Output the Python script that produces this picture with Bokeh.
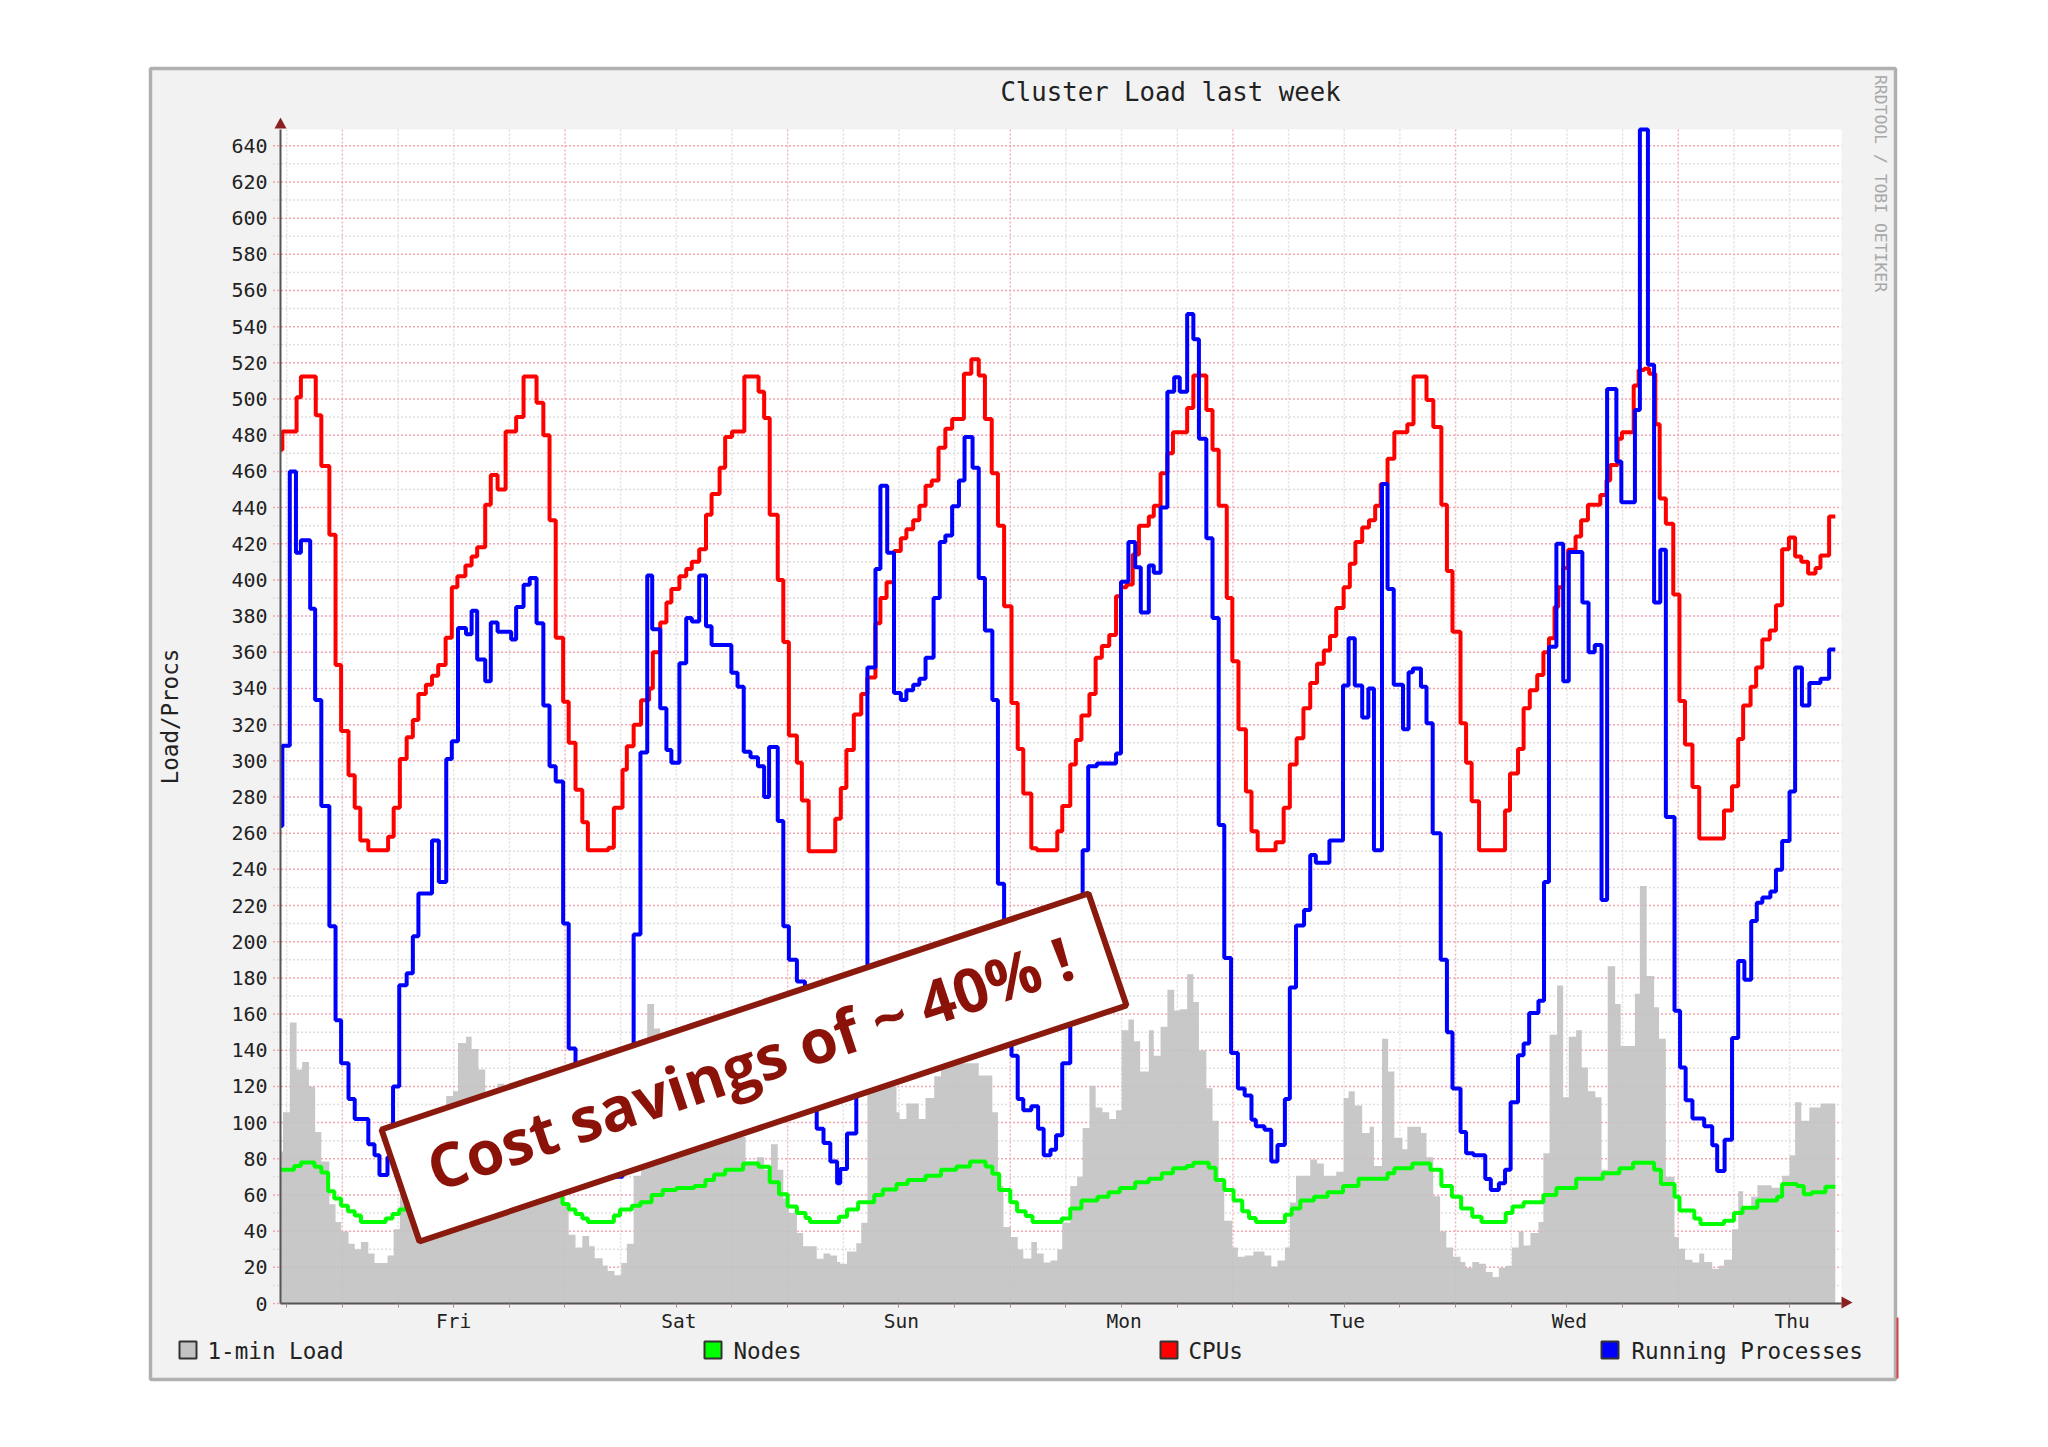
from bokeh.plotting import figure
from bokeh.embed import file_html
from bokeh.resources import INLINE
from bokeh.models import (BoxAnnotation, PolyAnnotation, Label, FixedTicker, Range1d)

# Samples are 40-minute steps from the left edge of the chart; each pair is
# (sample at which the level starts, level)
cpus_steps = [(0,472),(.3,482),(2.6,501),(3.3,512.5),(5.7,491),(6.6,463),(7.9,425),(8.9,353),(9.8,316.5),(11,292),(12,274),(12.9,256),(14.2,250.5),(17.4,258),(18.3,274),(19.3,301),(20.4,313),(21.4,322.5),(22.3,337),(23.5,342),(24.5,347),(25.5,353),(26.7,368),(27.7,396),(28.6,402),(29.9,408),(30.9,413),(31.8,418),(33.1,441.5),(34,458),(35.1,450),(36.4,482),(38.1,490),(39.3,512.5),(41.4,498),(42.5,480),(43.5,433),(44.5,368),(45.7,332.6),(46.6,310),(47.7,284),(48.8,266),(49.7,250.5),(53,252),(53.9,274),(55.3,295),(56,308),(57.1,320),(58.3,333.5),(59.6,340),(60.2,360),(61.4,376.5),(62.4,387.5),(63.2,395),(64.5,402),(65.6,406),(66.5,410),(67.7,417),(68.8,436),(69.7,447.5),(71,462),(71.9,479),(73,482),(75,512.5),(77.3,504),(78.2,489.5),(79.1,436),(80.4,400),(81.3,365.7),(82.2,314),(83.5,299),(84.3,278),(85.4,250),(89.7,268),(90.6,285),(91.5,306),(92.7,325.6),(93.9,337),(94.9,346),(96.2,376),(97,390),(98,398.7),(99.2,416),(100.3,423),(101.2,428),(102.3,433),(103.3,441),(104.3,452),(105.3,455),(106.4,473),(107.5,483.6),(108.6,489),(110.5,514),(111.7,522),(112.9,513),(113.9,489),(115,459),(116,430),(117,385.5),(118.2,332),(119.2,306.6),(120.1,282),(121.4,251.6),(122.3,250.5),(125.6,261),(126.4,275),(127.7,298),(128.6,311.5),(129.5,325),(130.8,337),(131.8,357),(132.8,363.5),(134,369.5),(135.1,391),(135.9,396),(136.8,397.5),(137.8,414),(138.8,430),(140.4,435),(141.2,441),(142.3,459),(143.4,470),(144.3,481.6),(146.6,495),(147.6,513),(149.7,494),(150.7,472),(151.7,441),(153,390),(153.9,355),(154.9,317.5),(156.1,283),(157,261),(158,250.5),(160.9,255),(162.2,274),(163.2,298),(164.3,312.5),(165.4,329),(166.5,343),(167.6,353.6),(168.7,361),(169.7,369),(170.7,384.5),(171.9,396),(172.9,409),(173.8,421),(174.9,429),(176,433),(177,441),(177.9,453),(179,467),(180.1,481.6),(182.2,486),(183.2,512.5),(185.3,499.5),(186.4,484.5),(187.7,441.5),(188.6,405),(189.5,371.4),(190.8,320.7),(191.7,299),(192.6,277.6),(193.8,250.5),(198,272.6),(198.8,293),(200.1,306.6),(201,329),(202,339),(203.2,347.4),(204.2,360),(205.1,367.7),(206,385),(206.6,396),(207.4,406.6),(208.2,416.7),(209.4,424),(210.3,433),(211.4,441.5),(213.4,447),(214.4,455),(215,463.5),(216.2,478),(216.9,481.6),(218.8,507.5),(219.6,516),(220.5,516.7),(221.3,514),(222.3,486),(223,445),(224,431),(225.2,392),(226.2,333),(227.1,309),(228.3,285.5),(229.4,257),(233.4,272.6),(234.7,286),(235.7,312),(236.5,330.6),(237.7,341),(238.6,351.6),(239.6,367),(240.8,372),(241.8,386),(242.8,417),(243.9,423.4),(244.9,413),(245.9,410),(247,403.6),(248.2,406.6),(249,413.5),(250.4,435),(251.4,435)]

running_steps = [(0,264),(.3,308.3),(1.5,460),(2.5,415),(3.3,422),(4.8,384),(5.6,333.6),(6.6,275),(7.9,208.6),(8.9,156.6),(9.8,132.8),(11,113),(12,102),(14.2,88),(15.2,82),(16,71),(17.3,80.8),(18.2,120),(19.2,176),(20.4,182.6),(21.4,203),(22.3,226.7),(24.5,256),(25.6,233),(26.8,301),(27.7,310.8),(28.7,373.4),(30,370),(30.9,383),(31.8,356),(33.1,344),(34,376.4),(35.1,371.4),(37.3,367),(38.1,385),(39.3,397.4),(40.3,401),(41.4,376),(42.5,330.6),(43.5,297),(44.5,288.5),(45.7,210),(46.6,141),(47.7,120),(48.8,110),(49.7,105),(51,95),(52.1,80),(53.1,70),(55.3,110),(57.1,204),(58.2,304.6),(59.3,402.4),(60.1,372.7),(61.4,329),(62.4,306),(63.2,299),(64.5,354),(65.6,379),(66.5,377),(67.7,402.4),(68.8,374.4),(69.7,364),(72.9,348.7),(73.9,341),(74.9,305),(76,302),(77.2,297),(78.2,280),(79,307.6),(80.4,266.7),(81.3,208.6),(82.2,190),(83.5,178),(84.8,150),(85.8,120),(86.7,96.6),(87.8,88.7),(88.9,78.5),(90,66.5),(90.5,74.4),(91.6,94),(93.1,140),(94.9,351.6),(96.2,406),(97,452),(98.1,415),(99.2,337.5),(100.3,333.6),(101.2,339),(102.3,342),(103.3,345.4),(104.3,357),(105.6,390),(106.6,421),(107.5,424.6),(108.6,440.7),(109.7,455),(110.6,479),(111.9,462),(112.9,401),(113.9,372),(115.1,333.6),(116,232),(117,190),(118.2,137),(119.2,113),(120.1,106.8),(121.4,109),(122.5,96.6),(123.4,82),(124.5,85),(125.4,93),(126.4,132.8),(127.7,190),(129.7,250.5),(130.6,297),(132,298.5),(135.1,304),(135.9,399),(137.1,421),(138.2,407),(139.1,382),(140.4,408),(141.2,404),(142.3,440),(143.4,504),(144.5,512),(145.4,504),(146.6,547),(147.6,533),(148.5,478),(149.7,423),(150.7,379),(151.7,264.5),(152.6,191),(153.7,138.5),(154.8,118.8),(155.9,115),(157,101.6),(157.7,98),(159.1,96),(160.2,78.5),(161.2,87.6),(162.4,113),(163.2,174.7),(164.2,209),(165.5,217.6),(166.5,248),(167.4,243.7),(169.6,256),(171.8,341.7),(172.7,367.7),(173.7,341.7),(174.9,324),(175.9,340),(176.8,250.5),(178.1,453),(179,395),(180,342),(181.5,317.5),(182.4,349),(183.1,351),(184.4,341),(185.3,320.7),(186.3,260),(187.6,190),(188.6,150),(189.5,118.8),(190.8,94.8),(191.7,83),(192.9,82),(194.8,68.8),(195.7,62.7),(197,66.5),(198,74),(198.9,111.3),(200.1,137.3),(201,143.7),(201.9,160.6),(203.4,167.4),(204.3,233),(205.1,363),(206.3,420),(207.4,344),(208.3,415.5),(210.5,387.5),(211.5,360),(212.5,364),(213.6,223),(214.5,505.5),(216,465.5),(216.8,443),(219,494),(219.8,649),(221.1,519),(222.1,387.5),(223.1,416.7),(224,269),(225.4,161.8),(226.3,130.5),(227.2,112.4),(228.3,102.3),(230.2,98),(231.5,87.5),(232.3,73.3),(233.5,90.5),(234.7,146.8),(235.7,189.4),(236.7,179),(237.8,211.5),(238.7,221.5),(239.6,224.4),(240.9,227.8),(241.8,239.8),(242.8,255.7),(244,283),(244.9,351.6),(246,330.6),(247.2,343),(249,345.4),(250.4,361.5),(251.4,361.5)]

nodes_steps = [(0,74),(2.2,76),(3.3,78),(5.5,75.6),(6.6,72.4),(7.7,62),(8.7,58),(9.8,54),(10.9,51),(12,48.6),(13,45),(17,47),(18.1,49.5),(19.2,52),(20.3,55),(21.5,58),(24,61),(27,63),(30,66),(33,69),(36,72),(39,75),(41,78),(43,74),(44.5,66),(45.5,60),(45.6,55),(46.6,52),(47.7,49.5),(48.8,47),(49.7,45),(53.9,48.6),(54.9,52),(56.8,54),(58.2,56),(60,60),(61.8,62.7),(64,63.8),(66.9,65),(68.7,68.3),(70.1,71.3),(71.9,74),(74.8,77.4),(77.3,75.6),(79.1,67),(80.6,60.4),(82,53.6),(83.5,50),(84.9,47.3),(85.6,45),(90.3,48),(91.6,52),(93.4,56),(96,60),(97.4,63),(99.6,66),(101.4,68.3),(104.3,70.6),(106.8,74),(109.3,75.8),(111.5,78.5),(114,75.8),(115.1,71.7),(116.2,62.7),(118,56),(119.1,51),(120.5,48.4),(121.6,45),(126.3,47),(127.7,52.5),(129.5,57),(132.1,59),(133.9,61.5),(135.7,63.8),(138.2,67),(140.4,69),(142.5,72),(144.3,74.7),(146.5,76),(147.6,77.8),(150.1,75),(151.2,68.3),(152.6,62.7),(154.1,57),(155.5,51),(156.6,47.3),(157.7,45),(162.4,49),(163.5,52.5),(164.9,57),(167.1,59),(169.3,61.5),(171.8,65),(174.3,69),(179,72),(180.1,74.7),(183,77.4),(185.9,74),(187.7,65),(189.4,59),(190.9,52.5),(192.7,48),(194.2,45),(198.1,50),(199.2,53.6),(201,56),(204.2,60),(206.3,63.8),(209.5,69),(213.8,72),(216.5,74.7),(218.7,77.8),(222.1,74),(223.2,66),(225.4,59),(226.2,51.4),(228.6,47),(229.6,44),(233.4,45.7),(235,50),(236.4,53),(238.8,57),(242,59),(242.8,66),(245.2,65),(246.3,60.4),(247.6,61.5),(249.8,64.5),(251.4,64.5)]

load_steps = [(0,84),(.4,105.7),(1.5,155.4),(2.6,129.4),(3.5,133.5),(4.6,120),(5.6,94.8),(6.6,78.5),(7.9,54.8),(8.9,45),(9.8,40),(11,33),(12,30),(13,34),(14.2,27.6),(15.2,22.4),(17.3,26.5),(18.3,41),(19.3,65),(20.4,85),(22.5,90),(24.6,100),(26.8,114.7),(27.9,117.4),(28.7,144),(30,147.5),(30.9,140.7),(32,129.4),(33.1,110),(35.1,121.5),(36.2,105),(39.4,125),(41.2,115),(43,95),(44.5,70),(45.6,55),(46.6,38),(47.7,31),(48.8,37.3),(49.9,31.7),(50.8,25),(52.1,21),(52.9,18),(54,15.6),(55.1,22.4),(56,33),(57.1,70.6),(58.3,110),(59.3,165.6),(60.4,152),(61.4,130),(66.1,125),(70.5,115),(74.1,92),(75.2,78.5),(77,80.8),(78.2,74),(79.3,88),(80.4,74),(81.3,58),(82.2,50),(83.5,39),(84.5,31.7),(86.7,24.7),(87.8,27.6),(88.9,26.5),(90,23),(90.5,22),(91.6,28.7),(93.1,33.3),(93.9,44.6),(94.9,120),(99.6,105.7),(100.1,102),(101.2,110.6),(103.2,102),(104.3,113.6),(105.7,125.6),(106.8,132.8),(112.9,126),(115.1,105.7),(116,65),(116.9,42.3),(118.1,36.7),(119.2,29.9),(120.1,24.9),(121.4,34),(122.3,27.6),(123.4,22.6),(124.5,23.8),(125.6,29.9),(126.4,44.6),(127.7,65),(128.8,70),(129.7,97),(130.8,120.4),(131.8,108.4),(132.9,105.7),(134,102),(135.1,106.8),(136,151),(137.1,157),(138,145),(139,128.3),(140.4,151),(141.2,136.9),(142.3,153),(143.4,173.5),(144.5,162),(145.4,162.7),(146.6,182),(147.6,166.7),(148.5,140),(149.7,119),(150.7,101),(151.7,67),(152.6,45.7),(153.9,31),(154.8,25.8),(155.9,26.5),(157.3,28.7),(159.1,26.5),(160.2,20.4),(161.2,23.8),(162.4,31),(163.2,55.9),(164.2,70.6),(166.5,79.6),(167.6,77.4),(168.7,70.6),(170.7,72.9),(171.9,113.6),(172.7,117.4),(173.7,109.5),(174.9,94.3),(176.1,97.7),(176.8,76),(178.1,146.4),(179.1,128.3),(180.1,91.6),(181.4,85.3),(182.2,97.7),(184.4,94.3),(185.3,80.8),(186.4,59.3),(187.5,40),(188.5,31),(189.6,25.8),(190.8,23),(191.6,19.7),(192.7,23),(193.8,22),(194.9,17.4),(196,14.7),(197,19.7),(198.1,20.8),(199.1,31),(200.2,40),(201,32),(202.1,39),(203.4,45),(204.2,83),(205.2,148.6),(206.4,175.8),(207.4,114),(208.3,147.5),(209.5,151),(210.4,130.5),(211.4,117.4),(212.6,114),(213.6,74),(214.6,186.4),(215.8,165.6),(216.7,142.3),(219,171.3),(219.8,230.8),(220.9,181),(222.1,163.8),(222.9,146.4),(224,70),(225.4,36.7),(226.1,30.3),(227.1,24.2),(228.3,22.6),(229.4,27.6),(230.2,23),(231.5,19.2),(232.6,20.8),(233.4,24.2),(234.7,41),(235.7,62),(236.5,53),(237.8,59),(238.8,65.4),(241.1,64),(242.8,70.6),(244,81.9),(244.9,111.3),(245.9,101),(247.2,108.4),(249,110.6),(251.4,110.6)]

day_labels = ["Fri", "Sat", "Sun", "Mon", "Tue", "Wed", "Thu"]
day_label_ticks = [28, 64.4, 100.4, 136.4, 172.5, 208.4, 244.4]
midnight_ticks = [10, 46, 82, 118, 154, 190, 226]
six_hour_ticks = [1, 19, 28, 37, 55, 64, 73, 91, 100, 109, 127, 136, 145, 163, 172, 181, 199, 208, 217, 235, 244]
y_ticks = [0, 20, 40, 60, 80, 100, 120, 140, 160, 180, 200, 220, 240, 260, 280, 300, 320, 340, 360, 380, 400, 420, 440, 460, 480, 500, 520, 540, 560, 580, 600, 620, 640]
y_minor_ticks = [10, 30, 50, 70, 90, 110, 130, 150, 170, 190, 210, 230, 250, 270, 290, 310, 330, 350, 370, 390, 410, 430, 450, 470, 490, 510, 530, 550, 570, 590, 610, 630]

MONO = "DejaVu Sans Mono"
INK = "#222222"
WIDTH, HEIGHT = 2040, 1440
X_MAX, Y_MAX = 252.4, 649
PLOT_L, PLOT_R, PLOT_T, PLOT_B = 280, 1841, 129, 1303
sx = (PLOT_R - PLOT_L) / X_MAX
sy = (PLOT_B - PLOT_T) / Y_MAX

# The frame fills the whole canvas so that the surrounding panel, legend and
# title are not clipped; axes are pinned at the data origin.
p = figure(width=WIDTH, height=HEIGHT, output_backend="svg", toolbar_location=None,
           x_range=Range1d(-PLOT_L / sx, (WIDTH - PLOT_L) / sx),
           y_range=Range1d(-(HEIGHT - PLOT_B) / sy, PLOT_B / sy),
           min_border=0, background_fill_color="#ffffff", border_fill_color="#ffffff", outline_line_color=None)
p.xgrid.visible = False
p.ygrid.visible = False

def box(l, r, t, b, fill, line=None, width=1, level="annotation"):
    p.add_layout(BoxAnnotation(left=l, right=r, top=t, bottom=b,
                               left_units="canvas", right_units="canvas", top_units="canvas", bottom_units="canvas",
                               fill_color=fill, fill_alpha=1, line_color=line, line_alpha=1, line_width=width, level=level,
                               editable=False))

def poly(pts, fill, line=None, width=1):
    p.add_layout(PolyAnnotation(xs=[a for a, _ in pts], ys=[b for _, b in pts],
                                xs_units="canvas", ys_units="canvas",
                                fill_color=fill, fill_alpha=1, line_color=line, line_width=width, line_alpha=1))

def text(s, x, y, size, color=INK, align="left", angle=0, font=MONO, style="normal"):
    p.add_layout(Label(x=x, y=y, x_units="canvas", y_units="canvas", text=s,
                       text_font=font, text_font_size=f"{size}px", text_color=color, text_font_style=style,
                       text_align=align, text_baseline="middle", angle=angle, angle_units="deg"))

# chart panel and white plotting area
box(150, 1895, 68, 1379, "#f2f2f2", "#b0b0b0", 3.5, level="image")
box(PLOT_L, PLOT_R, PLOT_T, PLOT_B, "#ffffff", None, 0, level="image")
box(1896, 1898, 1317, 1378, "#d9404a", None, 0)

# grids
def grid(x0, y0, x1, y1, colour):
    r = p.segment(x0, y0, x1, y1, line_color=colour, line_width=1.5)
    r.glyph.line_dash = [2, 2]

grid(six_hour_ticks, [0] * len(six_hour_ticks), six_hour_ticks, [Y_MAX] * len(six_hour_ticks), "#e0e0e0")
grid([-1.2] * len(y_minor_ticks), y_minor_ticks, [X_MAX] * len(y_minor_ticks), y_minor_ticks, "#dedede")
grid(midnight_ticks, [0] * len(midnight_ticks), midnight_ticks, [Y_MAX] * len(midnight_ticks), "#f2b4ba")
grid([-1.2] * len(y_ticks), y_ticks, [X_MAX] * len(y_ticks), y_ticks, "#f0a6ae")

# data
load_t, load_v = zip(*load_steps)
nodes_t, nodes_v = zip(*nodes_steps)
cpus_t, cpus_v = zip(*cpus_steps)
running_t, running_v = zip(*running_steps)

p.varea_step(x=list(load_t), y1=[0] * len(load_t), y2=list(load_v), step_mode="after",
             fill_color="#c2c2c2", fill_alpha=0.9)
p.step(list(nodes_t), list(nodes_v), mode="after", line_color="#00ff00", line_width=4)
p.step(list(cpus_t), list(cpus_v), mode="after", line_color="#ff0000", line_width=4)
p.step(list(running_t), list(running_v), mode="after", line_color="#0000ff", line_width=4)

# axes
p.yaxis.fixed_location = 0
p.yaxis.bounds = (0, Y_MAX)
p.yaxis.ticker = FixedTicker(ticks=y_ticks, minor_ticks=y_minor_ticks)
p.yaxis.axis_label = "Load/Procs"
p.yaxis.axis_label_text_font = MONO
p.yaxis.axis_label_text_font_size = "22.5px"
p.yaxis.axis_label_text_font_style = "normal"
p.yaxis.axis_label_text_color = INK
p.yaxis.axis_label_standoff = 45
p.yaxis.major_label_text_font = MONO
p.yaxis.major_label_text_font_size = "20px"
p.yaxis.major_label_text_color = INK
p.yaxis.major_label_standoff = 13
p.yaxis.major_tick_in = 0
p.yaxis.major_tick_out = 0
p.yaxis.minor_tick_in = 0
p.yaxis.minor_tick_out = 0
p.yaxis.axis_line_color = "#555555"
p.yaxis.axis_line_width = 2

p.xaxis.fixed_location = 0
p.xaxis.bounds = (0, X_MAX)
p.xaxis.ticker = FixedTicker(ticks=day_label_ticks, minor_ticks=six_hour_ticks + midnight_ticks)
p.xaxis.major_label_overrides = dict(zip(day_label_ticks, day_labels))
p.xaxis.major_label_text_font = MONO
p.xaxis.major_label_text_font_size = "19.5px"
p.xaxis.major_label_text_color = INK
p.xaxis.major_label_standoff = 2
p.xaxis.major_tick_in = 0
p.xaxis.major_tick_out = 0
p.xaxis.minor_tick_in = 0
p.xaxis.minor_tick_out = 4
p.xaxis.axis_line_color = "#555555"
p.xaxis.axis_line_width = 2
p.xaxis.minor_tick_line_color = "#a88888"

# axis arrowheads
poly([(274, 128), (280, 117), (286, 128)], "#8a2020")
poly([(1841, 1296), (1852, 1302), (1841, 1308)], "#8a2020")

# title, vertical credit
text("Cluster Load last week", 1170, 91, 25.7, align="center")
text("RRDTOOL / TOBI OETIKER", 1880, 183, 16.4, color="#a8a8a8", align="center", angle=-90)

# legend
legend_items = [("1-min Load", "#c2c2c2", 179, 207), ("Nodes", "#00ff00", 704, 733), ("CPUs", "#ff0000", 1160, 1188), ("Running Processes", "#0000ff", 1601, 1631)]
for name, colour, left, label_left in legend_items:
    box(left, left + 17, 1341, 1358, colour, "#333333", 2)
    text(name, label_left, 1350, 22.6)

# callout banner
poly([(381, 1129), (1088, 893), (1126, 1005), (419, 1241)], "#ffffff", "#8b1a0e", 6)
text("Cost savings of ~ 40% !", 749, 1062, 61, color="#8b1208", align="center", angle=18.5,
     font="Open Sans", style="bold")

open("out.html", "w").write(file_html(p, INLINE))
